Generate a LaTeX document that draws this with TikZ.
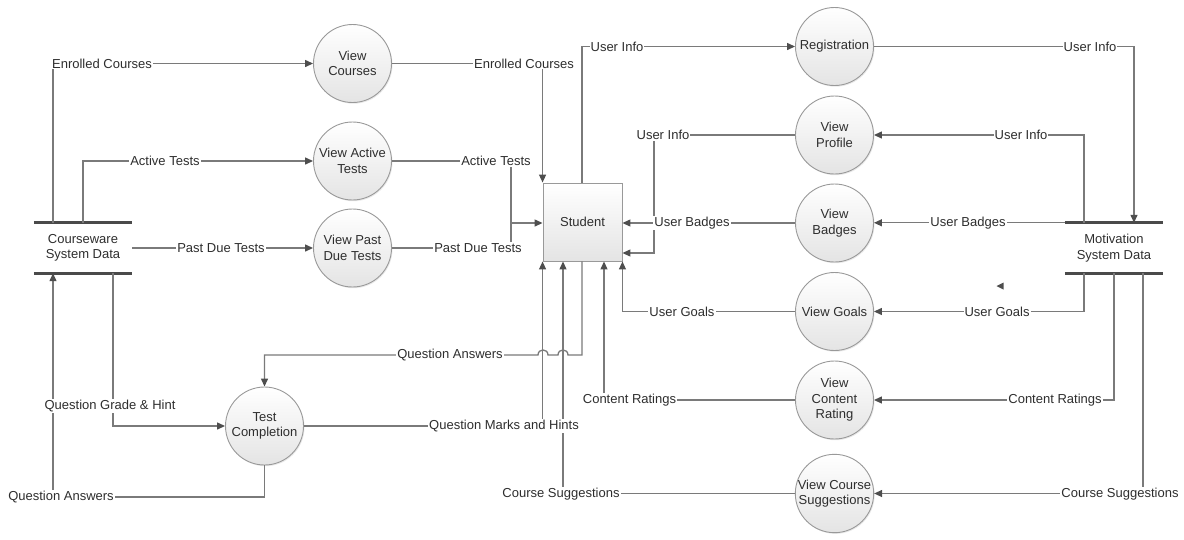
\documentclass[tikz,border=0pt]{standalone}
\usepackage{fontspec}
\setmainfont{Liberation Sans}
\usetikzlibrary{arrows.meta,shadows}

\definecolor{txt}{HTML}{2E2E2E}
\definecolor{linegray}{HTML}{7A7A7A}
\definecolor{tipgray}{HTML}{4E4E4E}
\definecolor{circgray}{HTML}{999999}
\definecolor{circlow}{HTML}{E4E4E4}
\definecolor{storegray}{HTML}{4A4A4A}

\tikzset{
  proc/.style={circle, draw=circgray, line width=0.9pt, minimum size=78pt,
    inner sep=0pt, align=center, top color=white, bottom color=circlow,
    text=txt, font=\fontsize{13}{15.5}\selectfont,
    drop shadow={opacity=0.18, shadow xshift=1pt, shadow yshift=-1.2pt}},
  entity/.style={rectangle, draw=circgray, line width=0.9pt, minimum width=79pt,
    minimum height=78pt, inner sep=0pt, top color=white, bottom color=circlow,
    text=txt, font=\fontsize{13}{15.5}\selectfont},
  store/.style={rectangle, minimum width=98pt, minimum height=50pt, inner sep=0pt,
    align=center, text=txt, font=\fontsize{13}{15.5}\selectfont},
  storeline/.style={draw=storegray, line width=3.2pt},
  link/.style={draw=linegray, line width=1.3pt},
  flow/.style={link, -{Triangle[length=8pt,width=7pt,color=tipgray]}},
  lbl/.style={fill=white, inner sep=1pt, text=txt, font=\fontsize{13}{15.5}\selectfont}
}

\begin{document}
\begin{tikzpicture}[x=1pt,y=-1pt]
\useasboundingbox (0,0) rectangle (1184,539);

% ---- data stores ----
\node[store] (cw) at (83,248) {Courseware\\System Data};
\node[store] (ms) at (1114,248) {Motivation\\System Data};
\foreach \s in {cw,ms}{
  \draw[storeline] (\s.north west) -- (\s.north east);
  \draw[storeline] (\s.south west) -- (\s.south east);
}

% ---- external entity ----
\node[entity] (st) at (582.5,222) {Student};

% ---- processes ----
\node[proc] (vc)  at (352.5,63.5) {View\\Courses};
\node[proc] (vat) at (352.5,161)  {View Active\\Tests};
\node[proc] (vpd) at (352.5,248)  {View Past\\Due Tests};
\node[proc] (tc)  at (264.5,426)  {Test\\Completion};
\node[proc] (reg) at (834.5,46.5) {Registration};
\node[proc] (vp)  at (834.5,135)  {View\\Profile};
\node[proc] (vb)  at (834.5,223)  {View\\Badges};
\node[proc] (vg)  at (834.5,311.5){View Goals};
\node[proc] (vcr) at (834.5,400)  {View\\Content\\Rating};
\node[proc] (vcs) at (834.5,493.5){View Course\\Suggestions};

% ---- routing points ----
\coordinate (xa) at (53,0);
\coordinate (xg) at (113,0);
\coordinate (j1) at (511,223);
\coordinate (j2) at (654,253);
\coordinate (xu) at (582,0);
\coordinate (xm1) at (1084,0);
\coordinate (xm2) at (1134,0);
\coordinate (xm3) at (1143,0);
\coordinate (xs1) at (563,0);
\coordinate (xs2) at (604,0);
\coordinate (qa) at (582,355);
\coordinate (qb) at (53,497);

% ---- courseware flows ----
\draw[flow] (cw.north -| xa) |- (vc.west);
\draw[flow] (cw.north) |- (vat.west);
\draw[flow] (cw.east |- vpd) -- (vpd.west);
\draw[flow] (cw.south -| xg) |- (tc.west);
\draw[flow] (tc.south) |- (qb) -- (cw.south -| qb);

% ---- flows into the student ----
\draw[flow] (vc.east) -| (st.north west);
\draw[flow] (vat.east) -| (j1) -- (st.west |- j1);
\draw[link] (vpd.east) -| (j1);
\draw[flow] (vp.west) -| (j2) -- (st.east |- j2);
\draw[flow] (vb.west) -- (st.east |- vb.west);
\draw[flow] (vg.west) -| (st.south east);
\draw[flow] (vcr.west) -| (st.south -| xs2);
\draw[flow] (vcs.west) -| (st.south -| xs1);
\draw[flow] (tc.east) -| (st.south west);

% ---- flows out of the student ----
\draw[flow] (st.south -| qa) -- (qa) -- (568,355)
  .. controls (568,348.3) and (558,348.3) .. (558,355) -- (548,355)
  .. controls (548,348.3) and (538,348.3) .. (538,355) -| (tc.north);
\draw[flow] (st.north -| xu) |- (reg.west);

% ---- motivation flows ----
\draw[flow] (reg.east) -| (ms.north -| xm2);
\draw[flow] (ms.north -| xm1) |- (vp.east);
\draw[flow] (ms.north west) -- (vb.east |- ms.north west);
\draw[flow] (ms.south -| xm1) |- (vg.east);
\draw[flow] (ms.south) |- (vcr.east);
\draw[flow] (ms.south -| xm3) |- (vcs.east);

% loose arrowhead
\fill[tipgray] (996.5,286) -- (1003.5,282.5) -- (1003.5,289.5) -- cycle;

% ---- flow labels ----
\node[lbl] (l1)  at (102,63.5)  {Enrolled Courses};
\node[lbl] (l2)  at (165,161)   {Active Tests};
\node[lbl] (l3)  at (221,248)   {Past Due Tests};
\node[lbl] (l4)  at (524,63.5)  {Enrolled Courses};
\node[lbl] (l5)  at (496,161)   {Active Tests};
\node[lbl] (l6)  at (478,248)   {Past Due Tests};
\node[lbl] (l7)  at (617,46.5)  {User Info};
\node[lbl] (l8)  at (1090,46.5) {User Info};
\node[lbl] (l9)  at (1021,135)  {User Info};
\node[lbl] (l10) at (663,135)   {User Info};
\node[lbl] (l11) at (968,223)   {User Badges};
\node[lbl] (l12) at (692,223)   {User Badges};
\node[lbl] (l13) at (997,311.5) {User Goals};
\node[lbl] (l14) at (682,311.5) {User Goals};
\node[lbl] (l15) at (1055,400)  {Content Ratings};
\node[lbl] (l16) at (629.5,400) {Content Ratings};
\node[lbl] (l17) at (1120,494)  {Course Suggestions};
\node[lbl] (l18) at (561,494)   {Course Suggestions};
\node[lbl] (l19) at (504,426)   {Question Marks and Hints};
\node[lbl] (l20) at (450,355)   {Question Answers};
\node[lbl] (l21) at (110,406)   {Question Grade \& Hint};
\node[lbl] (l22) at (61,497)    {Question Answers};
\end{tikzpicture}
\end{document}
